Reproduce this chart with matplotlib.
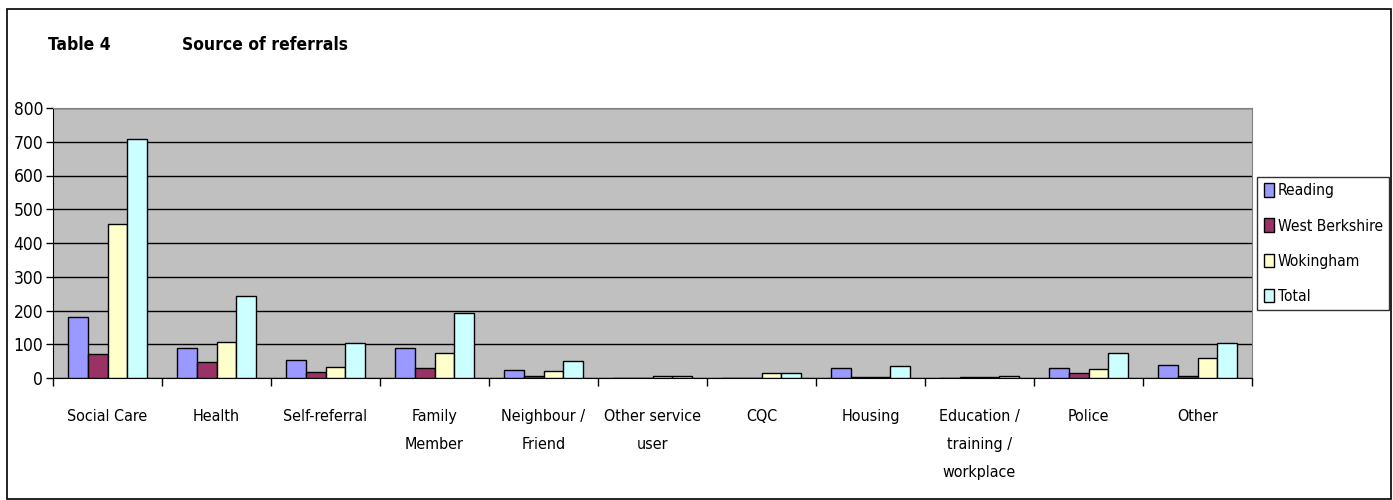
import matplotlib
matplotlib.use("Agg")
import matplotlib.pyplot as plt
import numpy as np
from matplotlib.patches import Rectangle, Patch

categories = ["Social Care", "Health", "Self-referral", "Family\nMember", "Neighbour /\nFriend",
              "Other service\nuser", "CQC", "Housing", "Education /\ntraining /\nworkplace",
              "Police", "Other"]
series_names = ["Reading", "West Berkshire", "Wokingham", "Total"]
reading = [181, 90, 54, 88, 24, 0, 0, 31, 0, 31, 39]
west_berkshire = [72, 47, 17, 31, 5, 0, 0, 3, 2, 16, 6]
wokingham = [456, 107, 33, 74, 21, 5, 15, 3, 3, 28, 59]
total = [709, 244, 104, 193, 50, 5, 15, 37, 5, 75, 104]
yticks = [0, 100, 200, 300, 400, 500, 600, 700, 800]

colors = ["#9999FF", "#993366", "#FFFFCC", "#CCFFFF"]
plt.rcParams['font.family'] = ["DejaVu Sans"]
plt.rcParams['font.stretch'] = "condensed"

W, H = 1393, 500
fig = plt.figure(figsize=(W / 100, H / 100), dpi=100)
fig.patch.set_facecolor("white")

# outer border
fig.add_artist(Rectangle((7 / W, 1 - 499 / H), (1391 - 7) / W, (499 - 9) / H,
                         transform=fig.transFigure, fill=False, edgecolor="black", lw=1.2))

left, right, top, bottom = 53, 1252, 108, 378
ax = fig.add_axes([left / W, 1 - bottom / H, (right - left) / W, (bottom - top) / H])
ax.set_facecolor("#C0C0C0")

n = len(categories)
x = np.arange(n)
bw = 1 / 5.5
data = [reading, west_berkshire, wokingham, total]
for i, (vals, c, name) in enumerate(zip(data, colors, series_names)):
    ax.bar(x - 2 * bw + (i + 0.5) * bw, vals, width=bw, color=c, edgecolor="black",
           linewidth=1.0, label=name, zorder=3)

ax.set_xlim(-0.5, n - 0.5)
ax.set_ylim(0, 800)
ax.set_yticks(yticks)
ax.yaxis.grid(True, color="black", lw=1.0, zorder=1)
ax.set_axisbelow(True)

ax.set_xticks(x)
ax.set_xticklabels(categories, fontsize=11.5, linespacing=2.1, va="top")
ax.set_xticks(np.arange(-0.5, n, 1.0), minor=True)
ax.tick_params(axis="x", which="major", length=0, pad=22)
ax.tick_params(axis="x", which="minor", length=6, width=1, direction="out")
ax.tick_params(axis="y", length=5, width=1, direction="out", labelsize=12.5, pad=2)

for s in ["top", "right"]:
    ax.spines[s].set_color("#808080")
ax.spines["left"].set_color("black")
ax.spines["bottom"].set_color("black")

fig.text(48 / W, 1 - 45 / H, "Table 4", fontsize=12.5, fontweight="bold", va="center", ha="left")
fig.text(182 / W, 1 - 45 / H, "Source of referrals", fontsize=12.5, fontweight="bold",
         va="center", ha="left")

handles = [Patch(facecolor=c, edgecolor="black", lw=1) for c in colors]
leg = fig.legend(handles, series_names, loc="upper right",
                 bbox_to_anchor=(1389 / W, 1 - 177 / H), bbox_transform=fig.transFigure,
                 frameon=True, fancybox=False, edgecolor="black", fontsize=11.2,
                 handlelength=0.65, handleheight=0.95, handletextpad=0.25,
                 labelspacing=1.3, borderpad=0.4, borderaxespad=0)
leg.get_frame().set_linewidth(1.0)

fig.savefig("out.png", dpi=100)
